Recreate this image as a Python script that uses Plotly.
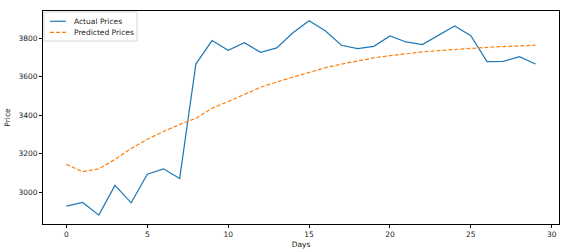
import plotly.graph_objects as go

days = list(range(30))
actual = [2927, 2946, 2880, 3035, 2944, 3093, 3121, 3071, 3666, 3788,
          3738, 3777, 3727, 3750, 3829, 3891, 3839, 3764, 3746, 3758,
          3812, 3781, 3767, 3816, 3864, 3814, 3679, 3680, 3704, 3666]
predicted = [3144, 3106, 3121, 3170, 3227, 3275, 3315, 3352, 3384, 3436,
             3471, 3509, 3545, 3573, 3597, 3623, 3647, 3666, 3683, 3698,
             3710, 3720, 3729, 3736, 3743, 3748, 3753, 3757, 3760, 3764]
x_ticks = [0, 5, 10, 15, 20, 25, 30]
y_ticks = [3000, 3200, 3400, 3600, 3800]
series_names = ["Actual Prices", "Predicted Prices"]
series_colors = ["#1f77b4", "#ff7f0e"]
series_dash = ["solid", "4px,2px"]

W, H = 561, 249
ML, MR, MT, MB = 43, 2, 11, 25
PW, PH = W - ML - MR, H - MT - MB


def px_x(v):
    return (v - ML) / PW


def px_y(v):
    return (H - MB - v) / PH


fig = go.Figure()
for name, vals, col, dash in zip(series_names, [actual, predicted], series_colors, series_dash):
    fig.add_trace(go.Scatter(x=days, y=vals, mode="lines", name=name, showlegend=False,
                             line=dict(color=col, width=1.2, dash=dash)))

axis_common = dict(showline=True, linecolor="black", linewidth=0.8, mirror=True,
                   ticks="outside", ticklen=3, tickwidth=0.8, tickcolor="black",
                   showgrid=False, zeroline=False,
                   tickfont=dict(family="DejaVu Sans", size=7.5, color="#222"))

# legend (drawn as layout decoration)
shapes = [dict(type="rect", xref="paper", yref="paper",
               x0=px_x(44), x1=px_x(137), y0=px_y(41), y1=px_y(12),
               fillcolor="rgba(255,255,255,0.8)", line=dict(color="#cccccc", width=0.8),
               layer="above")]
annotations = []
row_y = [21.3, 32.3]
for name, col, dash, ry in zip(series_names, series_colors, series_dash, row_y):
    shapes.append(dict(type="line", xref="paper", yref="paper",
                       x0=px_x(50), x1=px_x(66), y0=px_y(ry), y1=px_y(ry),
                       line=dict(color=col, width=1.2, dash=dash), layer="above"))
    annotations.append(dict(text=name, xref="paper", yref="paper", x=px_x(71.5), y=px_y(ry),
                            xanchor="left", yanchor="middle", showarrow=False,
                            font=dict(family="DejaVu Sans", size=7.5, color="#222")))

fig.update_layout(
    width=W, height=H,
    margin=dict(l=ML, r=MR, t=MT, b=MB),
    paper_bgcolor="white", plot_bgcolor="white",
    font=dict(family="DejaVu Sans", size=7.5, color="#222"),
    xaxis=dict(range=[-1.45, 30.45], tickvals=x_ticks,
               title=dict(text="Days", standoff=4, font=dict(size=7.5)), **axis_common),
    yaxis=dict(range=[2834, 3942], tickvals=y_ticks,
               title=dict(text="Price", standoff=6, font=dict(size=7.5)), **axis_common),
    shapes=shapes,
    annotations=annotations,
    showlegend=False,
)

fig.write_html("out.html")
